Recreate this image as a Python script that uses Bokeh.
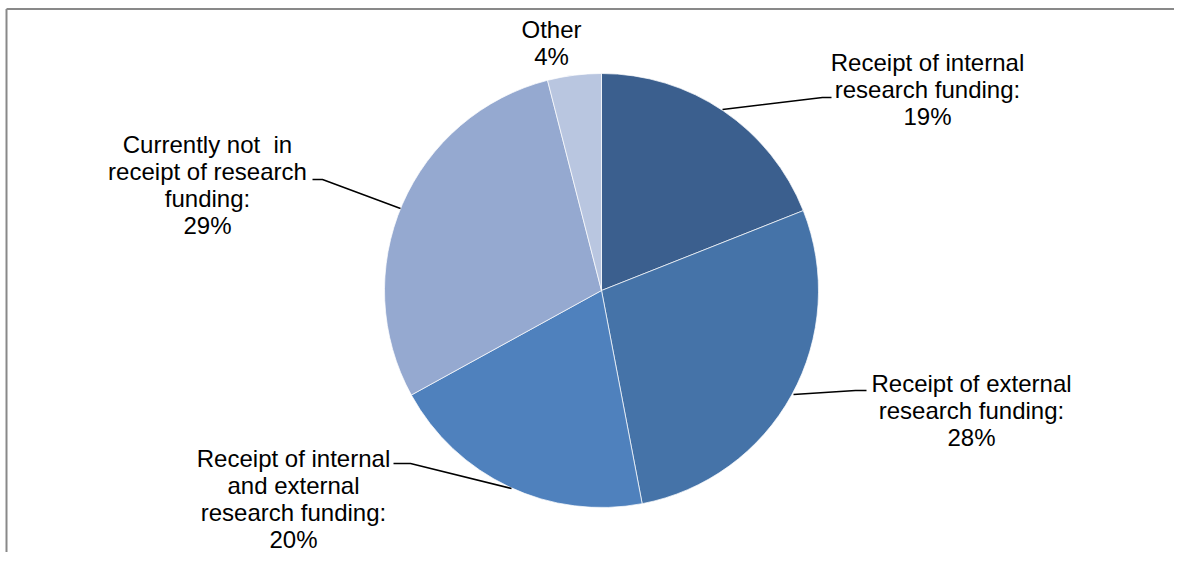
import math
from bokeh.plotting import figure
from bokeh.models import Range1d, ColumnDataSource
from bokeh.core.properties import value
from bokeh.embed import file_html
from bokeh.resources import INLINE

# ---- data ----
categories = [
    "Receipt of internal\nresearch funding:",
    "Receipt of external\nresearch funding:",
    "Receipt of internal\nand external\nresearch funding:",
    "Currently not\u00a0 in\nreceipt of research\nfunding:",
    "Other",
]
percents = [19, 28, 20, 29, 4]
colors = ["#3B5F8E", "#4573A8", "#4F81BD", "#95A9D0", "#B9C6E0"]

# ---- layout (picture pixel coordinates) ----
W, H = 1174, 552
cx_pg, cy_pg, R = 601, 290, 217
label_pos = [(927, 89), (971, 410), (293, 498), (207, 184), (551, 42)]
leaders = [
    [(722, 109), (822, 97), (831, 97)],
    [(793, 394), (855, 390), (866, 390)],
    [(511, 488), (410, 463), (393, 463)],
    [(400, 208), (322, 179), (312, 179)],
    None,
]

def tx(px):
    return px

def ty(py):
    return H - py

total = sum(percents)
starts, ends = [], []
cum = 0.0
for v in percents:
    starts.append(math.pi / 2 - 2 * math.pi * cum / total)
    cum += v
    ends.append(math.pi / 2 - 2 * math.pi * cum / total)

p = figure(width=W, height=H, output_backend="svg", toolbar_location=None,
           x_range=Range1d(0, W), y_range=Range1d(0, H),
           x_axis_type=None, y_axis_type=None, min_border=0)
p.grid.visible = False
p.outline_line_color = None
p.background_fill_color = "white"

src = ColumnDataSource(dict(start=starts, end=ends, color=colors))
p.wedge(x=tx(cx_pg), y=ty(cy_pg), radius=R, start_angle="start", end_angle="end",
        direction="clock", fill_color="color", line_color="white", line_alpha=0.7,
        line_width=1, source=src)

# leader lines
xs, ys = [], []
for ld in leaders:
    if ld:
        xs.append([tx(a) for a, b in ld])
        ys.append([ty(b) for a, b in ld])
p.multi_line(xs, ys, line_color="black", line_width=1.5)

# labels
texts = [f"{c}\n{v}%" for c, v in zip(categories, percents)]
p.text(x=[tx(a) for a, b in label_pos], y=[ty(b) for a, b in label_pos], text=texts,
       text_font=value("Liberation Sans"), text_font_size="24px", text_color="black",
       text_align="center", text_baseline="middle", text_line_height=1.0)

# chart-area border (top and left visible)
p.line([6, W], [ty(8.5), ty(8.5)], line_color="#898989", line_width=2)
p.line([6, 6], [0, ty(8.5)], line_color="#898989", line_width=2)

open("out.html", "w").write(file_html(p, INLINE))
